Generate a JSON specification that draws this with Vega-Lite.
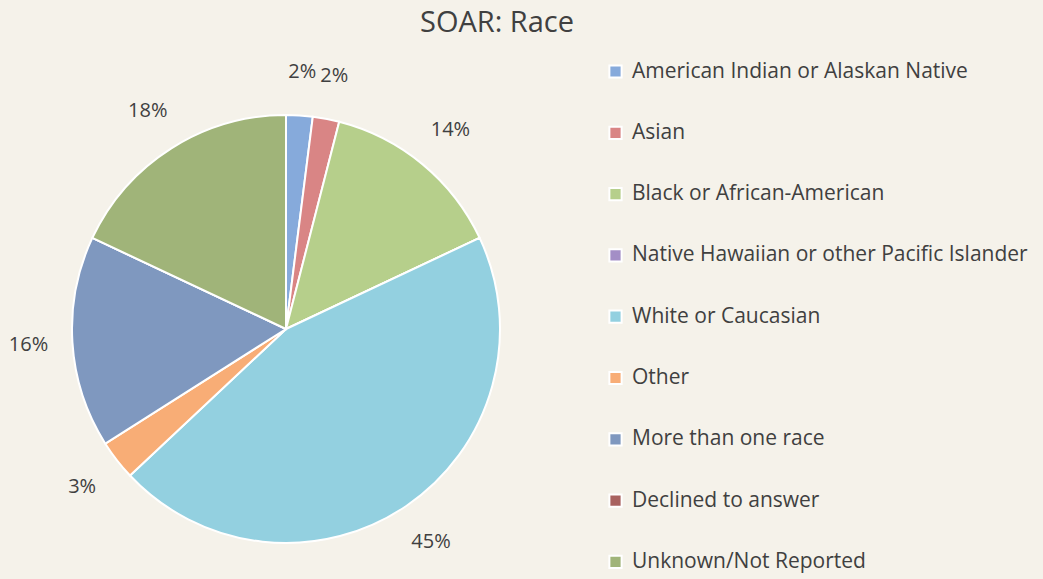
{
  "$schema": "https://vega.github.io/schema/vega-lite/v6.json",
  "autosize": "none",
  "width": 572,
  "height": 458,
  "padding": {"left": 0, "top": 100, "right": 471, "bottom": 21},
  "background": "#f5f2ea",
  "config": {"view": {"stroke": null}, "font": "Open Sans"},
  "title": {
    "text": "SOAR: Race",
    "fontSize": 29,
    "font": "Open Sans",
    "fontWeight": "normal",
    "color": "#404040",
    "anchor": "middle",
    "dx": 211,
    "offset": 23
  },
  "data": {
    "values": [
      {"race": "American Indian or Alaskan Native", "share": 0.02, "order": 1},
      {"race": "Asian", "share": 0.02, "order": 2},
      {"race": "Black or African-American", "share": 0.14, "order": 3},
      {"race": "Native Hawaiian or other Pacific Islander", "share": 0, "order": 4},
      {"race": "White or Caucasian", "share": 0.45, "order": 5},
      {"race": "Other", "share": 0.03, "order": 6},
      {"race": "More than one race", "share": 0.16, "order": 7},
      {"race": "Declined to answer", "share": 0, "order": 8},
      {"race": "Unknown/Not Reported", "share": 0.18, "order": 9}
    ]
  },
  "encoding": {
    "theta": {"field": "share", "type": "quantitative", "stack": true},
    "order": {"field": "order", "type": "quantitative"},
    "color": {
      "field": "race",
      "type": "nominal",
      "sort": null,
      "scale": {
        "domain": ["American Indian or Alaskan Native", "Asian", "Black or African-American", "Native Hawaiian or other Pacific Islander", "White or Caucasian", "Other", "More than one race", "Declined to answer", "Unknown/Not Reported"],
        "range": ["#86aadb", "#d98585", "#b6cf8b", "#a38ec6", "#93d0e0", "#f8ad76", "#7f98bf", "#a8625f", "#a0b479"]
      },
      "legend": {
        "title": null,
        "orient": "none",
        "legendX": 605,
        "legendY": -39,
        "symbolType": "square",
        "symbolSize": 150,
        "symbolStrokeColor": "white",
        "symbolStrokeWidth": 2,
        "symbolOpacity": 1,
        "labelFontSize": 21,
        "labelFont": "Open Sans",
        "labelColor": "#404040",
        "labelOffset": 6,
        "labelLimit": 500,
        "rowPadding": 39.3
      }
    }
  },
  "layer": [
    {
      "mark": {"type": "arc", "outerRadius": 214, "stroke": "white", "strokeWidth": 2}
    },
    {
      "transform": [{"filter": "datum.share > 0"}],
      "mark": {"type": "text", "radius": 258, "fontSize": 20, "font": "Open Sans", "color": "#404040"},
      "encoding": {
        "text": {"field": "share", "type": "quantitative", "format": ".0%"},
        "color": {"value": "#404040"}
      }
    }
  ]
}
